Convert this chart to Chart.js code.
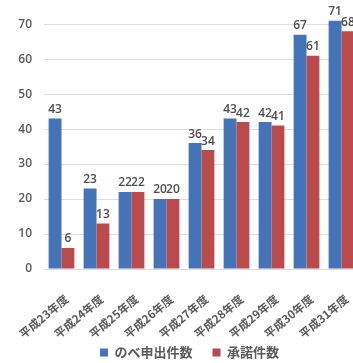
<!DOCTYPE html>
<html>
<head>
<meta charset="utf-8">
<script src="https://cdn.jsdelivr.net/npm/chart.js@4/dist/chart.umd.min.js"></script>
<style>
    html, body { margin: 0; padding: 0; background: #fff; overflow: hidden; }
    #frame { position: relative; width: 353px; height: 363px; overflow: hidden; }
    #graph { position: absolute; left: 0; top: -30px; }
</style>
</head>
<body>
<div id="frame">
    <canvas id="graph" width="379" height="399"></canvas>
</div>
<script>
var years = ['平成23年度', '平成24年度', '平成25年度', '平成26年度', '平成27年度',
    '平成28年度', '平成29年度', '平成30年度', '平成31年度'];
var applied = [43, 23, 22, 20, 36, 43, 42, 67, 71];
var accepted = [6, 13, 22, 20, 34, 42, 41, 61, 68];
var yTicks = [0, 10, 20, 30, 40, 50, 60, 70, 80];

var numFont = '"Open Sans", "Noto Sans", sans-serif';
var jpFont = '"Noto Sans CJK JP", sans-serif';

// writes each bar's value just above it
var valueLabels = {
    id: 'valueLabels',
    afterDatasetsDraw: function (chart) {
        var ctx = chart.ctx;
        ctx.save();
        ctx.font = '600 12px ' + numFont;
        ctx.fillStyle = '#4d4d4d';
        ctx.textAlign = 'center';
        ctx.textBaseline = 'bottom';
        chart.data.datasets.forEach(function (ds, i) {
            chart.getDatasetMeta(i).data.forEach(function (bar, j) {
                ctx.fillText(String(ds.data[j]), bar.x, bar.y - 3);
            });
        });
        ctx.restore();
    }
};

var ctx = document.getElementById('graph');
var myChart = new Chart(ctx, {
    type: 'bar',
    data: {
        labels: years,
        datasets: [{
            label: 'のべ申出件数',
            data: applied,
            backgroundColor: '#4573b7'
        }, {
            label: '承諾件数',
            data: accepted,
            backgroundColor: '#bb4a4d'
        }]
    },
    options: {
        responsive: false,
        animation: false,
        devicePixelRatio: 1,
        categoryPercentage: 0.735,
        barPercentage: 1,
        layout: {
            padding: { top: 15, left: 0, right: 0, bottom: 0 }
        },
        plugins: {
            legend: {
                position: 'bottom',
                labels: {
                    boxWidth: 8,
                    boxHeight: 8,
                    padding: 20,
                    color: '#595959',
                    font: { family: jpFont, size: 13, weight: 'bold' }
                }
            },
            tooltip: { enabled: false }
        },
        scales: {
            x: {
                grid: { display: false },
                border: { display: false },
                ticks: {
                    minRotation: 40,
                    maxRotation: 40,
                    padding: 15,
                    labelOffset: 5,
                    color: '#595959',
                    font: { family: jpFont, size: 11.5, weight: 'bold' }
                },
                afterFit: function (scale) {
                    scale.height = 57;
                    scale.paddingLeft = 0;
                    scale.paddingRight = 0;
                    // long slanted labels run a little into the legend band
                    scale._computeLabelArea = function () { return undefined; };
                }
            },
            y: {
                min: 0,
                max: 80,
                afterBuildTicks: function (scale) {
                    scale.ticks = yTicks.map(function (v) { return { value: v }; });
                },
                grid: { color: '#dedede', drawTicks: false },
                border: { display: false },
                ticks: {
                    padding: 12,
                    color: '#595959',
                    font: { family: numFont, size: 12, weight: '600' }
                },
                afterFit: function (scale) { scale.width = 44; }
            },
            // empty strip on the right so the plot runs past the visible edge
            spacer: {
                position: 'right',
                display: true,
                grid: { display: false },
                border: { display: false },
                ticks: { display: false },
                afterFit: function (scale) { scale.width = 20; }
            }
        }
    },
    plugins: [valueLabels]
});
</script>
</body>
</html>
